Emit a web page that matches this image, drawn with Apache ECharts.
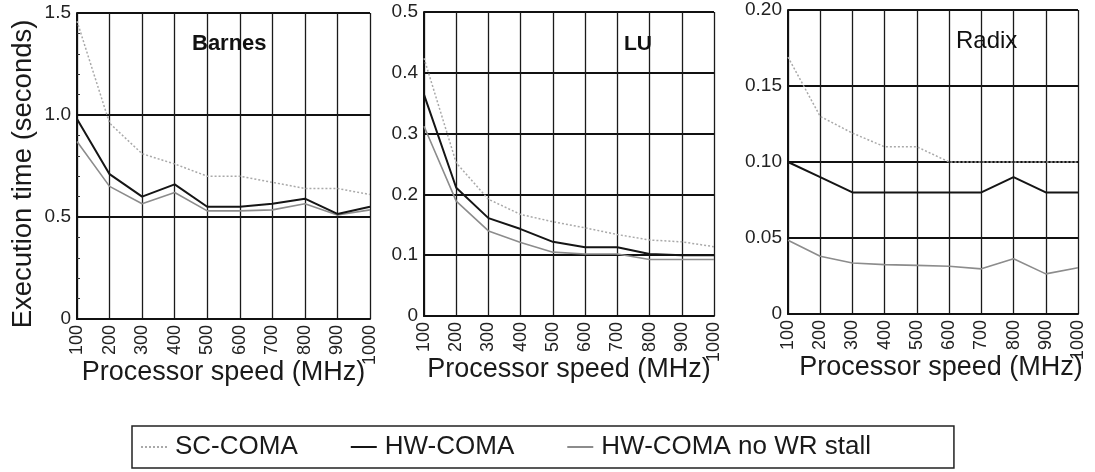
<!DOCTYPE html>
<html>
<head>
<meta charset="utf-8">
<script src="https://cdn.jsdelivr.net/npm/echarts@6/dist/echarts.min.js"></script>
<style>
  html, body { margin: 0; padding: 0; background: #ffffff; }
  #chart { width: 1095px; height: 472px; }
</style>
</head>
<body>
<div id="chart"></div>
<script>
// Processor clock speeds (MHz) on the shared x axis
const speeds = ['100', '200', '300', '400', '500', '600', '700', '800', '900', '1000'];

// Series names
const seriesNames = ['SC-COMA', 'HW-COMA', 'HW-COMA no WR stall'];

// Benchmark titles
const panelTitles = ['Barnes', 'LU', 'Radix'];

// Execution time (seconds) — Barnes
const barnesSC   = [1.46, 0.96, 0.81, 0.76, 0.70, 0.70, 0.67, 0.64, 0.64, 0.61];
const barnesHW   = [0.98, 0.71, 0.60, 0.66, 0.55, 0.55, 0.565, 0.59, 0.515, 0.55];
const barnesNoWR = [0.87, 0.65, 0.565, 0.62, 0.53, 0.53, 0.535, 0.565, 0.51, 0.535];

// Execution time (seconds) — LU
const luSC   = [0.424, 0.252, 0.192, 0.167, 0.155, 0.145, 0.134, 0.125, 0.122, 0.114];
const luHW   = [0.364, 0.211, 0.161, 0.143, 0.122, 0.113, 0.113, 0.102, 0.100, 0.100];
const luNoWR = [0.312, 0.189, 0.140, 0.121, 0.105, 0.102, 0.102, 0.093, 0.093, 0.093];

// Execution time (seconds) — Radix
const radixSC   = [0.169, 0.130, 0.119, 0.110, 0.110, 0.100, 0.100, 0.100, 0.100, 0.100];
const radixHW   = [0.100, 0.090, 0.080, 0.080, 0.080, 0.080, 0.080, 0.090, 0.080, 0.080];
const radixNoWR = [0.0485, 0.038, 0.0336, 0.0325, 0.032, 0.0314, 0.0297, 0.0363, 0.0264, 0.0304];

// Y tick labels per panel
const barnesYLabels = ['0', '0.5', '1.0', '1.5'];
const luYLabels     = ['0', '0.1', '0.2', '0.3', '0.4', '0.5'];
const radixYLabels  = ['0', '0.05', '0.10', '0.15', '0.20'];

// Axis titles
const xAxisTitle = 'Processor speed (MHz)';
const yAxisTitle = 'Execution time (seconds)';

const FONT = '"Liberation Sans", Arial, Helvetica, sans-serif';

const panels = [
  { grid: { left: 77,  top: 13, width: 293, height: 306 }, max: 1.5, interval: 0.5,  labels: barnesYLabels, data: [barnesSC, barnesHW, barnesNoWR], minor: true,  nameShift: 0 },
  { grid: { left: 424, top: 12, width: 290, height: 304 }, max: 0.5, interval: 0.1,  labels: luYLabels,     data: [luSC, luHW, luNoWR],             minor: false, nameShift: 0 },
  { grid: { left: 788, top: 10, width: 290, height: 304 }, max: 0.2, interval: 0.05, labels: radixYLabels,  data: [radixSC, radixHW, radixNoWR],    minor: false, nameShift: 16 }
];

const lineStyles = [
  { color: '#a9a9a9', width: 1.5, type: [2, 2] },
  { color: '#151515', width: 2,   type: 'solid' },
  { color: '#8c8c8c', width: 1.6, type: 'solid' }
];

const grids = [], xAxes = [], yAxes = [], series = [];

panels.forEach((p, gi) => {
  grids.push(Object.assign({ containLabel: false }, p.grid));
  xAxes.push({
    type: 'category',
    gridIndex: gi,
    data: speeds,
    boundaryGap: false,
    name: xAxisTitle,
    nameLocation: 'middle',
    nameGap: 40,
    nameMoveOverlap: false,
    nameTextStyle: { fontFamily: FONT, fontSize: 27, color: '#1a1a1a', padding: [0, 0, 0, p.nameShift] },
    axisLine: { show: true, lineStyle: { color: '#111', width: 2 } },
    axisTick: { show: false },
    axisLabel: {
      rotate: 90, interval: 0, margin: 6,
      fontFamily: FONT, fontSize: 18, color: '#222'
    },
    splitLine: { show: true, interval: 0, lineStyle: { color: '#1a1a1a', width: 1.3 } }
  });
  yAxes.push({
    type: 'value',
    gridIndex: gi,
    min: 0,
    max: p.max,
    interval: p.interval,
    axisLine: { show: true, lineStyle: { color: '#111', width: 2 } },
    axisTick: { show: false, inside: true },
    minorTick: { show: p.minor, splitNumber: 5, length: 3, lineStyle: { color: '#333', width: 1 } },
    axisLabel: {
      margin: 6, fontFamily: FONT, fontSize: 19, color: '#222',
      formatter: (v, i) => p.labels[i]
    },
    splitLine: { show: true, lineStyle: { color: '#111', width: 1.8 } }
  });
  p.data.forEach((vals, si) => {
    series.push({
      name: seriesNames[si],
      type: 'line',
      xAxisIndex: gi,
      yAxisIndex: gi,
      data: vals,
      symbol: 'none',
      z: si === 1 ? 4 : 3,
      lineStyle: lineStyles[si],
      itemStyle: { color: lineStyles[si].color },
      emphasis: { disabled: true }
    });
  });
});

const chart = echarts.init(document.getElementById('chart'), null, { renderer: 'canvas' });
chart.setOption({
  animation: false,
  backgroundColor: '#ffffff',
  title: [
    { text: panelTitles[0], left: 187, top: 28, textStyle: { fontFamily: FONT, fontSize: 22, fontWeight: 'bold', color: '#111' } },
    { text: panelTitles[1], left: 619, top: 29, textStyle: { fontFamily: FONT, fontSize: 21, fontWeight: 'bold', color: '#111' } },
    { text: panelTitles[2], left: 951, top: 24, textStyle: { fontFamily: FONT, fontSize: 24, fontWeight: 'normal', color: '#111' } }
  ],
  legend: {
    left: 132,
    top: 426,
    padding: [8, 83, 8, 8],
    itemGap: 52,
    itemWidth: 26,
    itemHeight: 14,
    borderColor: '#222',
    borderWidth: 1.5,
    itemStyle: { opacity: 0 },
    data: seriesNames,
    textStyle: { fontFamily: FONT, fontSize: 26, color: '#1a1a1a', padding: [0, 0, 0, 3] }
  },
  graphic: [{
    type: 'text',
    x: 23, y: 174,
    rotation: Math.PI / 2,
    style: {
      text: yAxisTitle,
      fontFamily: FONT, fontSize: 27.5, fill: '#1a1a1a',
      textAlign: 'center', textVerticalAlign: 'middle'
    }
  }],
  grid: grids,
  xAxis: xAxes,
  yAxis: yAxes,
  series: series
});
</script>
</body>
</html>
